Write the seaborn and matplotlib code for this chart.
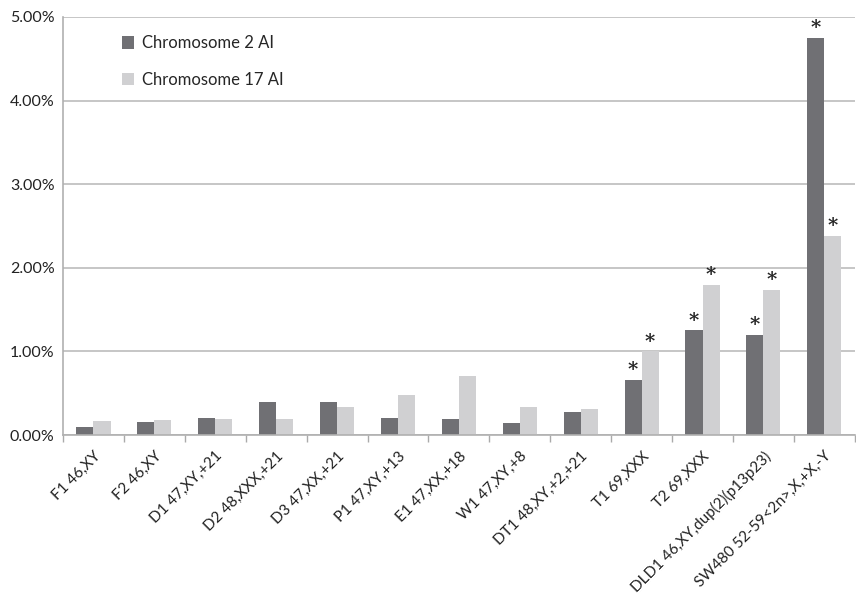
import pandas as pd
import numpy as np
import matplotlib.pyplot as plt
import seaborn as sns
from matplotlib.ticker import FuncFormatter, FixedLocator

# -----------------------------------
# Data
# -----------------------------------

samples = [
    "F1 46,XY", "F2 46,XY", "D1 47,XY,+21", "D2 48,XXX,+21",
    "D3 47,XX,+21", "P1 47,XY,+13", "E1 47,XX,+18", "W1 47,XY,+8",
    "DT1 48,XY,+2,+21", "T1 69,XXX", "T2 69,XXX",
    "DLD1 46,XY,dup(2)(p13p23)", "SW480 52-59<2n>,X,+X,-Y",
]
chr2_ai = [0.10, 0.15, 0.20, 0.39, 0.40, 0.20, 0.19, 0.14, 0.28, 0.66, 1.25, 1.20, 4.75]
chr17_ai = [0.17, 0.18, 0.19, 0.19, 0.34, 0.48, 0.70, 0.34, 0.31, 1.00, 1.80, 1.74, 2.38]
chr2_sig = [False] * 9 + [True] * 4
chr17_sig = [False] * 9 + [True] * 4

series_names = ["Chromosome 2 AI", "Chromosome 17 AI"]
colors = ["#707074", "#d0d0d2"]

df = pd.DataFrame({
    "sample": samples * 2,
    "value": chr2_ai + chr17_ai,
    "series": [series_names[0]] * len(samples) + [series_names[1]] * len(samples),
})

# -----------------------------------
# Plot
# -----------------------------------

sns.set_style("white")
plt.rcParams["font.family"] = ["Lato", "DejaVu Sans"]

fig = plt.figure(figsize=(8.56, 6.04), dpi=100)
ax = fig.add_axes([0.0736, 0.2798, 0.925, 0.6921])

sns.barplot(
    data=df, x="sample", y="value", hue="series",
    palette=colors, width=0.56, saturation=1,
    edgecolor="none", ax=ax,
)

# asterisks for significant bars
for container, sig in zip(ax.containers, [chr2_sig, chr17_sig]):
    for bar, s in zip(container, sig):
        if s:
            ax.text(
                bar.get_x() + bar.get_width() / 2,
                bar.get_height() + 0.01,
                "*", ha="center", va="bottom",
                fontsize=14, fontweight="bold",
                family="DejaVu Serif", color="#222222",
            )

ax.set_ylim(0, 5)
ax.set_xlim(-0.5, len(samples) - 0.5)
ax.set_yticks(np.arange(0, 5.01, 1))
ax.yaxis.set_major_formatter(FuncFormatter(lambda v, p: f"{v:.2f}%"))
ax.grid(axis="y", color="#bcbcbc", linewidth=1.2)
ax.set_axisbelow(True)

ax.set_xlabel("")
ax.set_ylabel("")
ax.set_xticks(range(len(samples)))
ax.set_xticklabels(samples, rotation=45, ha="right", rotation_mode="anchor",
                   fontsize=11, color="#222222")
ax.tick_params(axis="x", which="major", length=0, pad=10)
ax.xaxis.set_minor_locator(FixedLocator(np.arange(-0.5, len(samples), 1)))
ax.tick_params(axis="x", which="minor", length=5, color="#aaaaaa", width=1, bottom=True)
ax.tick_params(axis="y", length=0, labelsize=11.5, colors="#222222", pad=6)

for side in ["top", "right"]:
    ax.spines[side].set_visible(False)
ax.spines["left"].set_color("#b0b0b0")
ax.spines["bottom"].set_color("#b0b0b0")
ax.spines["left"].set_linewidth(1.2)
ax.spines["bottom"].set_linewidth(1.2)

leg = ax.legend(
    loc="upper left", bbox_to_anchor=(0.055, 0.992), frameon=False,
    fontsize=12, handlelength=0.75, handleheight=0.75,
    labelspacing=1.25, handletextpad=0.5,
)

fig.savefig("out.png", dpi=100)
plt.close()
